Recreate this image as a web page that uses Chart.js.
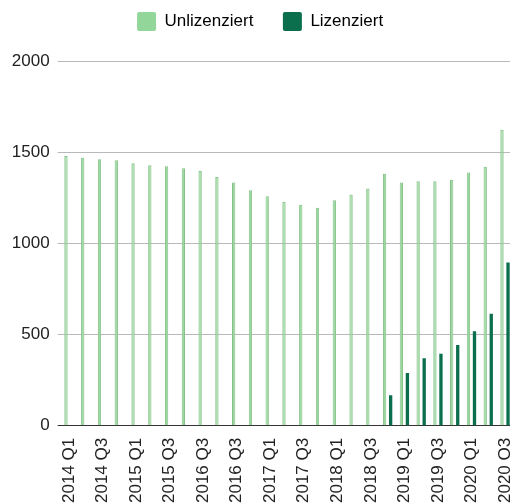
<!DOCTYPE html>
<html>
<head>
<meta charset="utf-8">
<script src="https://cdn.jsdelivr.net/npm/chart.js@4.4.1/dist/chart.umd.min.js"></script>
<style>
  html, body { margin: 0; padding: 0; background: #fff; overflow: hidden; }
  #wrap { width: 530px; height: 503px; position: relative; }
</style>
</head>
<body>
<div id="wrap"><canvas id="c" width="530" height="503"></canvas></div>
<script>
// Categories (quarters) — the fifth visible label reads "2016 Q3" in the reference
const categories = [
  '2014 Q1','2014 Q2','2014 Q3','2014 Q4',
  '2015 Q1','2015 Q2','2015 Q3','2015 Q4',
  '2016 Q3','2016 Q2','2016 Q3','2016 Q4',
  '2017 Q1','2017 Q2','2017 Q3','2017 Q4',
  '2018 Q1','2018 Q2','2018 Q3','2018 Q4',
  '2019 Q1','2019 Q2','2019 Q3','2019 Q4',
  '2020 Q1','2020 Q2','2020 Q3'
];
const unlizenziert = [1480,1471,1462,1457,1440,1429,1424,1413,1398,1365,1334,1292,1259,1229,1213,1196,1237,1269,1302,1383,1335,1341,1341,1350,1390,1421,1624];
const lizenziert   = [0,0,0,0,0,0,0,0,0,0,0,0,0,0,0,0,0,0,0,168,289,371,395,443,518,615,896];
const seriesNames = ['Unlizenziert', 'Lizenziert'];
const yTicks = [0, 500, 1000, 1500, 2000];

const FONT = "'Liberation Sans', Arial, sans-serif";
const CHART_TOP = 61.2;
const LEGEND_PAD = 29.5;
const LEGEND_BOX_TOP = 12;

const legendFix = {
  id: 'legendFix',
  beforeLayout(chart) {
    const lg = chart.legend;
    if (lg && !lg._patched) {
      const f = lg.fit;
      lg.fit = function () { f.call(this); this.height = CHART_TOP; };
      lg._patched = true;
    }
  },
  beforeDraw(chart) {
    const lg = chart.legend;
    if (lg) { lg.top = LEGEND_BOX_TOP - LEGEND_PAD; }
  }
};

new Chart(document.getElementById('c'), {
  type: 'bar',
  data: {
    labels: categories,
    datasets: [
      { label: seriesNames[0], data: unlizenziert, backgroundColor: '#9ad99d', borderColor: '#86c08a', borderWidth: 1 },
      { label: seriesNames[1], data: lizenziert, backgroundColor: '#0b6f4e', borderWidth: 0 }
    ]
  },
  options: {
    responsive: false,
    animation: false,
    categoryPercentage: 0.72,
    barPercentage: 0.55,
    layout: { padding: { top: 0, left: 6.8, right: 16.6, bottom: 0 } },
    plugins: {
      tooltip: { enabled: false },
      legend: {
        position: 'top',
        align: 'center',
        labels: {
          boxWidth: 19, boxHeight: 19, padding: LEGEND_PAD,
          color: '#222',
          font: { family: FONT, size: 17 },
          generateLabels(chart) {
            return chart.data.datasets.map((ds, i) => ({
              text: ds.label, fillStyle: i === 0 ? '#93d69a' : '#0b6f4e',
              strokeStyle: 'rgba(0,0,0,0)', lineWidth: 0, hidden: false, datasetIndex: i,
              borderRadius: 2
            }));
          },
          useBorderRadius: true, borderRadius: 2
        }
      }
    },
    scales: {
      x: {
        grid: { display: true, drawOnChartArea: false, drawTicks: true, tickLength: 12, color: 'rgba(0,0,0,0)' },
        border: { display: false },
        ticks: {
          autoSkip: false, maxRotation: 90, minRotation: 90, padding: 0,
          color: '#222', font: { family: FONT, size: 17 },
          callback(val, idx) { return idx % 2 === 0 ? this.getLabelForValue(val) : ''; }
        }
      },
      y: {
        min: 0, max: 2000,
        afterFit(axis) { axis.width = 60.6 - 6.8; },
        afterBuildTicks(axis) { axis.ticks = yTicks.map(v => ({ value: v })); },
        border: { display: false },
        grid: {
          drawTicks: true, tickLength: 3,
          color: ctx => (ctx.tick && ctx.tick.value === 0) ? '#333' : '#b9b9b9',
          lineWidth: 1
        },
        ticks: {
          padding: 8, color: '#222', font: { family: FONT, size: 17 },
          callback: v => String(v)
        }
      }
    }
  },
  plugins: [legendFix]
});
</script>
</body>
</html>
